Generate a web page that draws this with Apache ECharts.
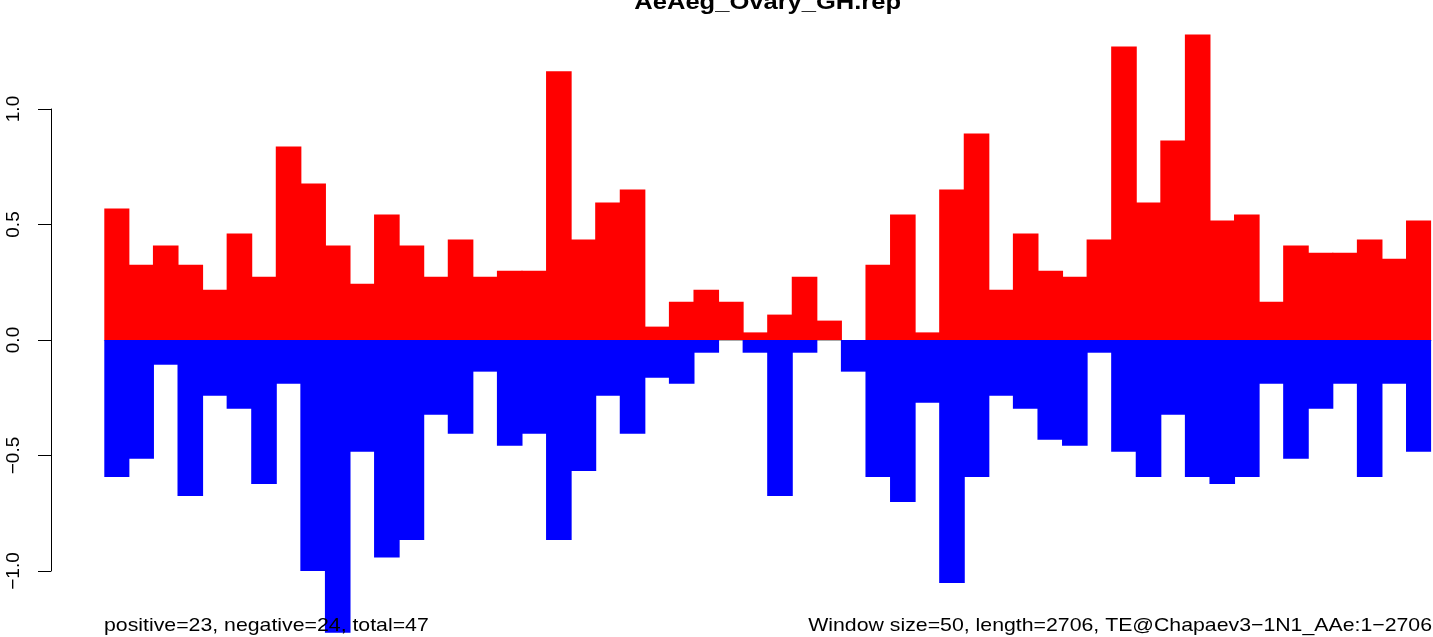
<!DOCTYPE html>
<html>
<head>
  <meta charset="UTF-8">
  <title>AeAeg_Ovary_GH.rep</title>
  <script src="https://cdn.jsdelivr.net/npm/echarts@6/dist/echarts.min.js"></script>
  <style>
    html, body { margin: 0; padding: 0; background: #fff; }
  </style>
</head>
<body>
<div id="main" style="width: 1433px;height:637px;"></div>
<script type="text/javascript">
  // window scores, 54 windows of 50 bp
  var windows = [];
  for (var i = 1; i <= 54; i++) windows.push(i);

  var positive = [0.569, 0.326, 0.409, 0.326, 0.218, 0.461, 0.274, 0.838, 0.677, 0.409,
    0.244, 0.543, 0.409, 0.274, 0.435, 0.274, 0.300, 0.300, 1.163, 0.435,
    0.595, 0.652, 0.058, 0.166, 0.218, 0.166, 0.033, 0.110, 0.274, 0.084,
    0, 0.326, 0.543, 0.033, 0.652, 0.894, 0.218, 0.461, 0.300, 0.274,
    0.435, 1.271, 0.595, 0.864, 1.323, 0.517, 0.543, 0.166, 0.409, 0.378,
    0.378, 0.435, 0.352, 0.517];

  var negative = [-0.593, -0.514, -0.107, -0.675, -0.241, -0.298, -0.623, -0.189, -1.0, -1.267,
    -0.484, -0.942, -0.866, -0.324, -0.406, -0.137, -0.458, -0.406, -0.866, -0.567,
    -0.241, -0.406, -0.163, -0.189, -0.055, 0, -0.055, -0.675, -0.055, 0,
    -0.137, -0.593, -0.701, -0.272, -1.052, -0.593, -0.241, -0.298, -0.432, -0.458,
    -0.055, -0.484, -0.593, -0.324, -0.593, -0.623, -0.593, -0.189, -0.514, -0.298,
    -0.189, -0.593, -0.189, -0.484];

  var yTicks = [-1.0, -0.5, 0.0, 0.5, 1.0];

  var titleText = 'AeAeg_Ovary_GH.rep';
  var leftNote = 'positive=23, negative=24, total=47';
  var rightNote = 'Window size=50, length=2706, TE@Chapaev3\u22121N1_AAe:1\u22122706';

  var font = 'Liberation Sans, Arial, Helvetica, sans-serif';
  var myChart = echarts.init(document.getElementById('main'));

  var option = {
    animation: false,
    backgroundColor: '#ffffff',
    grid: [
      {left: 104.3, right: 1.9, top: 16.6, bottom: 1.3},
      // separate grid only for the R-style y axis (spans -1..1)
      {left: 51, width: 1, top: 109, bottom: 66}
    ],
    xAxis: [
      {
        type: 'category',
        data: windows,
        gridIndex: 0,
        axisLine: {show: true, onZero: true, lineStyle: {color: '#aaaaaa', width: 1}},
        axisTick: {show: false},
        axisLabel: {show: false},
        splitLine: {show: false}
      },
      {type: 'value', gridIndex: 1, show: false}
    ],
    yAxis: [
      {
        type: 'value',
        gridIndex: 0,
        min: -1.28,
        max: 1.4,
        show: false,
        splitLine: {show: false}
      },
      {
        type: 'value',
        gridIndex: 1,
        min: yTicks[0],
        max: yTicks[yTicks.length - 1],
        interval: 0.5,
        axisLine: {show: true, lineStyle: {color: '#000', width: 1}},
        axisTick: {show: true, length: 13, lineStyle: {color: '#000', width: 1}},
        splitLine: {show: false},
        axisLabel: {
          rotate: 90,
          margin: 28,
          color: '#000',
          fontSize: 19,
          fontFamily: font,
          formatter: function (v) {
            return v.toFixed(1).replace('-', '\u2212');
          }
        }
      }
    ],
    graphic: [
      {
        type: 'text', x: 767.7, y: 14, scaleX: 1.12, z: 100,
        style: {text: titleText, fill: '#000', font: 'bold 22.8px ' + font,
          align: 'center', verticalAlign: 'bottom'}
      },
      {
        type: 'text', x: 104, y: 634.9, scaleX: 1.12, z: 100,
        style: {text: leftNote, fill: '#000', font: '19px ' + font,
          align: 'left', verticalAlign: 'bottom'}
      },
      {
        type: 'text', x: 1432, y: 634.9, scaleX: 1.12, z: 100,
        style: {text: rightNote, fill: '#000', font: '19px ' + font,
          align: 'right', verticalAlign: 'bottom'}
      }
    ],
    series: [
      {
        name: 'positive',
        type: 'bar',
        data: positive,
        // slightly wider than the category so neighbours overlap and no seams show
        barWidth: 25.6,
        barGap: '-100%',
        itemStyle: {color: '#ff0000'}
      },
      {
        name: 'negative',
        type: 'bar',
        data: negative,
        barWidth: 25.6,
        barGap: '-100%',
        itemStyle: {color: '#0000ff'}
      }
    ]
  };
  myChart.setOption(option);
</script>
</body>
</html>
